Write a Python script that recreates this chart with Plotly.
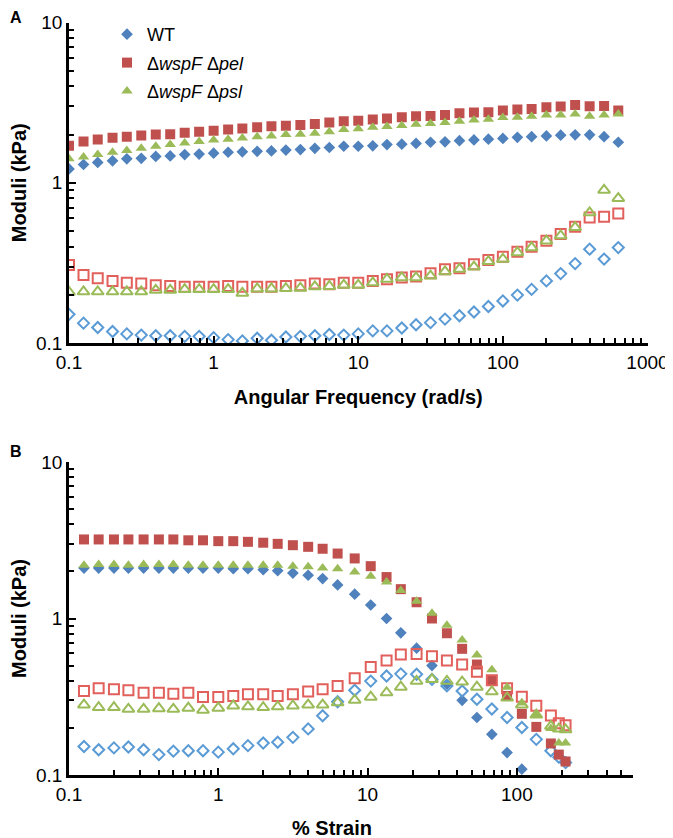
import plotly.graph_objects as go

# ---------------- data ----------------
# Panel A: frequency sweep
freq = [0.1, 0.126, 0.158, 0.2, 0.251, 0.316, 0.398, 0.501, 0.631, 0.794,
        1, 1.26, 1.58, 2, 2.51, 3.16, 3.98, 5.01, 6.31, 7.94,
        10, 12.6, 15.8, 20, 25.1, 31.6, 39.8, 50.1, 63.1, 79.4,
        100, 126, 158, 200, 251, 316, 398, 501, 628]

a_wt_storage = [1.22, 1.30, 1.34, 1.37, 1.41, 1.42, 1.46, 1.47, 1.50, 1.51,
                1.53, 1.55, 1.56, 1.57, 1.58, 1.60, 1.61, 1.64, 1.66, 1.69,
                1.69, 1.70, 1.73, 1.74, 1.76, 1.79, 1.80, 1.83, 1.85, 1.87,
                1.89, 1.92, 1.94, 1.96, 1.98, 1.99, 1.99, 1.94, 1.79]
a_pel_storage = [1.70, 1.81, 1.86, 1.91, 1.94, 1.97, 2.00, 2.01, 2.05, 2.08,
                 2.11, 2.15, 2.18, 2.22, 2.25, 2.27, 2.29, 2.33, 2.38, 2.42,
                 2.44, 2.48, 2.52, 2.56, 2.60, 2.61, 2.65, 2.71, 2.74, 2.75,
                 2.82, 2.86, 2.89, 2.96, 2.99, 3.06, 3.00, 3.01, 2.82]
a_psl_storage = [1.41, 1.45, 1.50, 1.55, 1.59, 1.64, 1.69, 1.73, 1.77, 1.81,
                 1.85, 1.87, 1.90, 1.94, 1.96, 2.00, 2.01, 2.04, 2.08, 2.15,
                 2.17, 2.22, 2.24, 2.28, 2.32, 2.34, 2.38, 2.42, 2.46, 2.49,
                 2.55, 2.56, 2.60, 2.65, 2.65, 2.69, 2.60, 2.65, 2.69]
a_wt_loss = [0.151, 0.133, 0.125, 0.118, 0.114, 0.112, 0.111, 0.111, 0.110, 0.110,
             0.108, 0.105, 0.103, 0.107, 0.104, 0.109, 0.110, 0.111, 0.113, 0.112,
             0.114, 0.119, 0.119, 0.124, 0.130, 0.134, 0.141, 0.148, 0.156, 0.169,
             0.183, 0.199, 0.216, 0.244, 0.271, 0.313, 0.385, 0.334, 0.394]
a_pel_loss = [0.307, 0.266, 0.254, 0.244, 0.238, 0.235, 0.229, 0.227, 0.224, 0.224,
              0.224, 0.227, 0.224, 0.224, 0.224, 0.227, 0.229, 0.235, 0.233, 0.238,
              0.238, 0.244, 0.250, 0.256, 0.260, 0.272, 0.289, 0.293, 0.310, 0.329,
              0.345, 0.371, 0.398, 0.434, 0.478, 0.531, 0.607, 0.613, 0.643]
a_psl_loss = [0.208, 0.209, 0.209, 0.209, 0.209, 0.209, 0.214, 0.214, 0.216, 0.216,
              0.216, 0.216, 0.205, 0.218, 0.218, 0.219, 0.220, 0.225, 0.226, 0.230,
              0.230, 0.238, 0.250, 0.256, 0.256, 0.262, 0.279, 0.289, 0.299, 0.323,
              0.334, 0.367, 0.394, 0.434, 0.467, 0.526, 0.650, 0.900, 0.800]

# Panel B: strain sweep
strain = [0.126, 0.158, 0.2, 0.25, 0.316, 0.4, 0.5, 0.63, 0.79, 1.0,
          1.26, 1.58, 2.0, 2.5, 3.16, 4.0, 5.0, 6.3, 8.2, 10.5,
          13.4, 16.7, 21.3, 27, 34, 43, 54, 68, 86, 108,
          135, 169, 191, 212]

b_wt_storage = [2.10, 2.10, 2.10, 2.10, 2.10, 2.10, 2.10, 2.10, 2.10, 2.10,
                2.08, 2.08, 2.05, 2.02, 1.95, 1.89, 1.80, 1.64, 1.43, 1.22,
                1.00, 0.81, 0.646, 0.50, 0.38, 0.30, 0.233, 0.182, 0.139, 0.109]
b_pel_storage = [3.20, 3.20, 3.20, 3.20, 3.20, 3.20, 3.20, 3.16, 3.16, 3.12,
                 3.12, 3.09, 3.05, 3.00, 2.94, 2.87, 2.79, 2.60, 2.42, 2.16,
                 1.84, 1.54, 1.27, 1.00, 0.805, 0.64, 0.508, 0.404, 0.32, 0.246,
                 0.203, 0.159, 0.135, 0.122]
b_psl_storage = [2.19, 2.21, 2.21, 2.19, 2.21, 2.21, 2.21, 2.19, 2.19, 2.19,
                 2.19, 2.19, 2.19, 2.19, 2.16, 2.14, 2.10, 2.08, 1.98, 1.86,
                 1.71, 1.51, 1.29, 1.08, 0.905, 0.73, 0.585, 0.47, 0.363, 0.288,
                 0.243, 0.198, 0.160, 0.160]
b_wt_loss = [0.152, 0.145, 0.149, 0.151, 0.145, 0.135, 0.142, 0.143, 0.143, 0.140,
             0.147, 0.154, 0.160, 0.162, 0.174, 0.197, 0.239, 0.294, 0.348, 0.398,
             0.429, 0.443, 0.440, 0.408, 0.371, 0.344, 0.305, 0.264, 0.233, 0.201,
             0.169, 0.143, 0.130, 0.120]
b_pel_loss = [0.344, 0.358, 0.353, 0.348, 0.336, 0.336, 0.331, 0.336, 0.315, 0.315,
              0.320, 0.328, 0.328, 0.320, 0.328, 0.341, 0.353, 0.371, 0.415, 0.489,
              0.539, 0.589, 0.594, 0.574, 0.539, 0.508, 0.457, 0.403, 0.358, 0.316,
              0.277, 0.240, 0.214, 0.208]
b_psl_loss = [0.281, 0.270, 0.270, 0.264, 0.264, 0.266, 0.264, 0.268, 0.260, 0.268,
              0.277, 0.273, 0.270, 0.273, 0.277, 0.281, 0.281, 0.290, 0.301, 0.315,
              0.336, 0.365, 0.398, 0.408, 0.398, 0.394, 0.365, 0.341, 0.311, 0.281,
              0.242, 0.205, 0.197, 0.195]

series_names = ["WT", "Δ<i>wspF</i> Δ<i>pel</i>", "Δ<i>wspF</i> Δ<i>psl</i>"]
# axis ranges as log10 exponents: y 0.1–10, x(A) 0.1–1000, x(B) 0.1–600
y_range = [-1, 1]
xa_range = [-1, 3]
xb_range = [-1, 2.778]

# ---------------- styling ----------------
FONT = "Liberation Sans, Arial, sans-serif"
# the page body adds an 8px margin, so the figure is drawn 8px in from the corner
OFF = 8
W, H = 673 - OFF, 838 - OFF
fill_colors = ["#4F81BD", "#C0504D", "#9BBB59"]
open_colors = ["#5B9BD5", "#E2605B", "#9BBB59"]
fill_symbols = ["diamond", "square", "triangle-up"]
open_symbols = ["diamond-open", "square-open", "triangle-up-open"]
fill_sizes = [9, 10, 10]
open_sizes = [8.5, 10, 10.5]
groups = ["wt", "pel", "psl"]

fig = go.Figure()

panels = [
    ("x", "y", freq, [a_wt_storage, a_pel_storage, a_psl_storage],
     [a_wt_loss, a_pel_loss, a_psl_loss], True),
    ("x2", "y2", strain, [b_wt_storage, b_pel_storage, b_psl_storage],
     [b_wt_loss, b_pel_loss, b_psl_loss], False),
]
for xa, ya, xs, storage, loss, legend_on in panels:
    for i in range(3):
        fig.add_trace(go.Scatter(
            x=xs[:len(storage[i])], y=storage[i], mode="markers",
            xaxis=xa, yaxis=ya, name=series_names[i], legendgroup=groups[i],
            showlegend=legend_on,
            marker=dict(symbol=fill_symbols[i], size=fill_sizes[i],
                        color=fill_colors[i], line=dict(width=0))))
        fig.add_trace(go.Scatter(
            x=xs[:len(loss[i])], y=loss[i], mode="markers",
            xaxis=xa, yaxis=ya, name=series_names[i] + " G''",
            legendgroup=groups[i], showlegend=False,
            marker=dict(symbol=open_symbols[i], size=open_sizes[i],
                        color=open_colors[i], line=dict(width=2, color=open_colors[i]))))

def px_x(v):
    return (v - OFF) / W

def px_y(v):
    return 1 - (v - OFF) / H

def axis():
    return dict(
        type="log", showline=True, linecolor="black", linewidth=2.5,
        ticks="inside", ticklen=7, tickwidth=2, tickcolor="black",
        tickmode="linear", tick0=0, dtick=1, tickformat="~g",
        showgrid=False, zeroline=False, automargin=False,
        tickfont=dict(size=19, color="black", family=FONT),
        minor=dict(ticks="inside", ticklen=5, tickwidth=2, tickcolor="black",
                   dtick="D1", showgrid=False),
    )

title_font = dict(size=20, color="black", family=FONT)

fig.update_layout(
    template="none",
    width=W, height=H,
    margin=dict(l=0, r=0, t=0, b=0, autoexpand=False),
    paper_bgcolor="white", plot_bgcolor="white",
    font=dict(family=FONT, color="black"),
    showlegend=True,
    legend=dict(x=px_x(107), y=px_y(16), xanchor="left", yanchor="top",
                bgcolor="rgba(0,0,0,0)", font=dict(size=18, color="black", family=FONT),
                tracegroupgap=2, itemclick=False, itemdoubleclick=False),
    xaxis=dict(axis(), domain=[px_x(69), px_x(647.5)], range=xa_range, anchor="y",
               title=dict(text="<b>Angular Frequency (rad/s)</b>", font=title_font, standoff=19)),
    yaxis=dict(axis(), domain=[px_y(343), px_y(22.5)], range=y_range, anchor="x",
               title=dict(text="<b>Moduli (kPa)</b>", font=title_font, standoff=12)),
    xaxis2=dict(axis(), domain=[px_x(69), px_x(633)], range=xb_range, anchor="y2"),
    yaxis2=dict(axis(), domain=[px_y(775), px_y(462)], range=y_range, anchor="x2",
                title=dict(text="<b>Moduli (kPa)</b>", font=title_font, standoff=12)),
    annotations=[
        dict(text="<b>A</b>", x=px_x(8), y=px_y(17), xref="paper", yref="paper",
             xanchor="left", yanchor="middle", showarrow=False,
             font=dict(size=16, color="black", family=FONT)),
        dict(text="<b>B</b>", x=px_x(8), y=px_y(451), xref="paper", yref="paper",
             xanchor="left", yanchor="middle", showarrow=False,
             font=dict(size=16, color="black", family=FONT)),
        dict(text="<b>% Strain</b>", x=px_x(332), y=px_y(828), xref="paper", yref="paper",
             xanchor="center", yanchor="middle", showarrow=False, font=title_font),
    ],
)

fig.write_html("out.html")
